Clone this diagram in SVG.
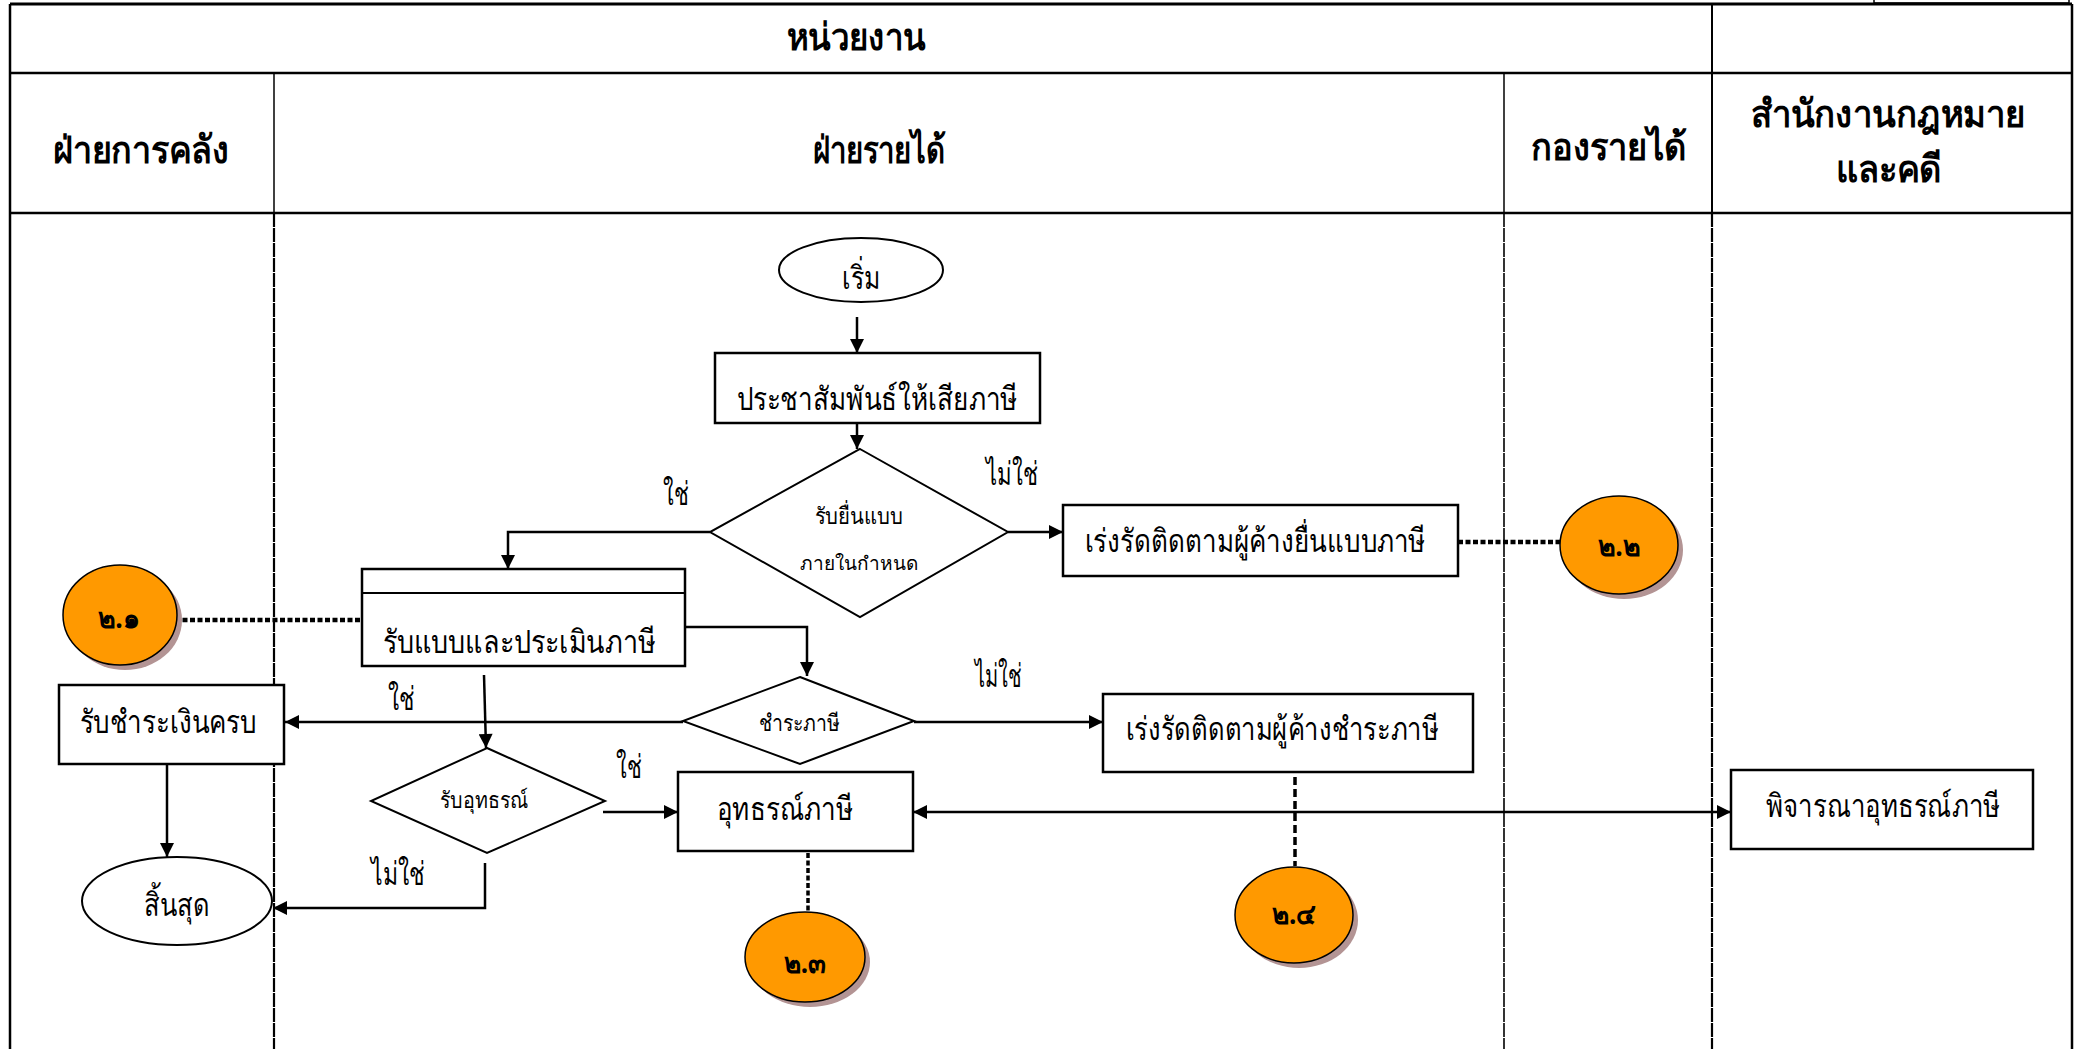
<svg xmlns="http://www.w3.org/2000/svg" width="2078" height="1049" viewBox="0 0 2078 1049">
<defs>
<marker id="arr" viewBox="0 0 10 10" refX="10" refY="5" markerUnits="userSpaceOnUse" markerWidth="16" markerHeight="14" orient="auto-start-reverse"><path d="M0,0 L10,5 L0,10 z" fill="#000"/></marker>
<style>
text{font-family:"Noto Sans",sans-serif;fill:#000}
.hd{font-size:38px;font-weight:bold;text-anchor:middle}
.bx{font-size:32px;text-anchor:middle}
.sm{font-size:23px;text-anchor:middle}
.lb{font-size:32px;text-anchor:middle}
.cn{font-size:28px;font-weight:bold;text-anchor:middle}
.box{fill:#fff;stroke:#000;stroke-width:2.5}
.circ{fill:#FF9900;stroke:#000;stroke-width:1.5}
.shad{fill:#b39494}
.ln{fill:none;stroke:#000;stroke-width:2.5}
.arw{fill:none;stroke:#000;stroke-width:2.5;marker-end:url(#arr)}
.dot{fill:none;stroke:#000;stroke-width:4.5;stroke-dasharray:5 2.5}
.lane{fill:none;stroke:#000;stroke-width:2.2;stroke-dasharray:14 1}
</style>
</defs>
<g id="frame">
<rect x="1874" y="-6" width="195" height="9" fill="#fff" stroke="#000" stroke-width="1.5"/>
<line x1="10" y1="4" x2="2072" y2="4" stroke="#000" stroke-width="3"/>
<line x1="10" y1="73" x2="2072" y2="73" stroke="#000" stroke-width="2.5"/>
<line x1="10" y1="213" x2="2072" y2="213" stroke="#000" stroke-width="2.5"/>
<line x1="10" y1="4" x2="10" y2="1049" stroke="#000" stroke-width="2.5"/>
<line x1="2072" y1="4" x2="2072" y2="1049" stroke="#000" stroke-width="2.5"/>
<line x1="274" y1="73" x2="274" y2="213" stroke="#000" stroke-width="1.5"/>
<line x1="1504" y1="73" x2="1504" y2="213" stroke="#000" stroke-width="1.5"/>
<line x1="1712" y1="4" x2="1712" y2="213" stroke="#000" stroke-width="2"/>
<line class="lane" x1="274" y1="213" x2="274" y2="1049"/>
<line class="lane" x1="1504" y1="213" x2="1504" y2="1049" style="stroke-width:1.6"/>
<line class="lane" x1="1712" y1="213" x2="1712" y2="1049"/>
<text class="hd" x="856" y="50" textLength="139" lengthAdjust="spacingAndGlyphs">หน่วยงาน</text>
<text class="hd" x="141" y="163" textLength="176" lengthAdjust="spacingAndGlyphs">ฝ่ายการคลัง</text>
<text class="hd" x="879" y="163" textLength="133" lengthAdjust="spacingAndGlyphs">ฝ่ายรายได้</text>
<text class="hd" x="1609" y="160" textLength="156" lengthAdjust="spacingAndGlyphs">กองรายได้</text>
<text class="hd" x="1888" y="127" textLength="275" lengthAdjust="spacingAndGlyphs">สำนักงานกฎหมาย</text>
<text class="hd" x="1889" y="182" textLength="106" lengthAdjust="spacingAndGlyphs">และคดี</text>
</g>
<g id="connectors">
<line class="arw" x1="857" y1="317" x2="857" y2="353"/>
<line class="arw" x1="857" y1="423" x2="857" y2="449"/>
<polyline class="arw" points="710,532 508,532 508,569"/>
<line class="arw" x1="1008" y1="532" x2="1063" y2="532"/>
<line class="dot" x1="1458" y1="542" x2="1560" y2="542"/>
<line class="dot" x1="175" y1="620" x2="362" y2="620"/>
<polyline class="arw" points="685,627 807,627 807,676"/>
<line class="arw" x1="683" y1="722" x2="285" y2="722"/>
<line class="arw" x1="914" y1="722" x2="1103" y2="722"/>
<line class="arw" x1="484" y1="675" x2="486" y2="748"/>
<line class="arw" x1="167" y1="764" x2="167" y2="857"/>
<line class="arw" x1="603" y1="812" x2="678" y2="812"/>
<polyline class="arw" points="485,863 485,908 273,908"/>
<line class="arw" x1="913" y1="812" x2="1731" y2="812" style="marker-start:url(#arr)"/>
<line class="dot" x1="808" y1="853" x2="808" y2="911" style="stroke-width:3.5"/>
<line class="dot" x1="1295" y1="777" x2="1295" y2="866" style="stroke-width:3.5;stroke-dasharray:8 4"/>
<text class="lb" x="676" y="505" textLength="26" lengthAdjust="spacingAndGlyphs">ใช่</text>
<text class="lb" x="1012" y="485" textLength="52" lengthAdjust="spacingAndGlyphs">ไม่ใช่</text>
<text class="lb" x="401" y="710" textLength="27" lengthAdjust="spacingAndGlyphs">ใช่</text>
<text class="lb" x="998" y="687" textLength="47" lengthAdjust="spacingAndGlyphs">ไม่ใช่</text>
<text class="lb" x="629" y="778" textLength="26" lengthAdjust="spacingAndGlyphs">ใช่</text>
<text class="lb" x="398" y="885" textLength="54" lengthAdjust="spacingAndGlyphs">ไม่ใช่</text>
</g>
<g id="start">
<ellipse cx="861" cy="270" rx="82" ry="32" fill="#fff" stroke="#000" stroke-width="2"/>
<text class="bx" x="861" y="289" textLength="38" lengthAdjust="spacingAndGlyphs">เริ่ม</text>
</g>
<g id="publicize">
<rect class="box" x="715" y="353" width="325" height="70"/>
<text class="bx" x="877" y="410" textLength="281" lengthAdjust="spacingAndGlyphs">ประชาสัมพันธ์ให้เสียภาษี</text>
</g>
<g id="decision-file">
<polygon points="860,449 1008,532 860,617 710,532" fill="#fff" stroke="#000" stroke-width="2"/>
<text class="sm" x="859" y="524" textLength="89" lengthAdjust="spacingAndGlyphs">รับยื่นแบบ</text>
<text class="sm" x="859" y="570" style="font-size:19px" textLength="118" lengthAdjust="spacingAndGlyphs">ภายในกำหนด</text>
</g>
<g id="follow-file">
<rect class="box" x="1063" y="505" width="395" height="71"/>
<text class="bx" x="1255" y="552" textLength="341" lengthAdjust="spacingAndGlyphs">เร่งรัดติดตามผู้ค้างยื่นแบบภาษี</text>
</g>
<g id="c22">
<ellipse class="shad" cx="1624" cy="550" rx="59" ry="49"/>
<ellipse class="circ" cx="1619" cy="545" rx="59" ry="49"/>
<text class="cn" x="1619" y="556" textLength="42" lengthAdjust="spacingAndGlyphs">๒.๒</text>
</g>
<g id="assess">
<rect class="box" x="362" y="569" width="323" height="97"/>
<line x1="362" y1="593" x2="685" y2="593" stroke="#000" stroke-width="2"/>
<text class="bx" x="519" y="653" textLength="273" lengthAdjust="spacingAndGlyphs">รับแบบและประเมินภาษี</text>
</g>
<g id="c21">
<ellipse class="shad" cx="125" cy="620" rx="57" ry="50"/>
<ellipse class="circ" cx="120" cy="615" rx="57" ry="50"/>
<text class="cn" x="119" y="628" textLength="42" lengthAdjust="spacingAndGlyphs">๒.๑</text>
</g>
<g id="decision-pay">
<polygon points="800,677 914,721 800,764 683,721" fill="#fff" stroke="#000" stroke-width="2"/>
<text class="sm" x="799" y="731" textLength="81" lengthAdjust="spacingAndGlyphs">ชำระภาษี</text>
</g>
<g id="follow-pay">
<rect class="box" x="1103" y="694" width="370" height="78"/>
<text class="bx" x="1282" y="740" textLength="313" lengthAdjust="spacingAndGlyphs">เร่งรัดติดตามผู้ค้างชำระภาษี</text>
</g>
<g id="paid">
<rect class="box" x="59" y="685" width="225" height="79"/>
<text class="bx" x="168" y="733" textLength="177" lengthAdjust="spacingAndGlyphs">รับชำระเงินครบ</text>
</g>
<g id="decision-appeal">
<polygon points="487,748 605,801 487,853 371,801" fill="#fff" stroke="#000" stroke-width="2"/>
<text class="sm" x="484" y="808" textLength="88" lengthAdjust="spacingAndGlyphs">รับอุทธรณ์</text>
</g>
<g id="appeal">
<rect class="box" x="678" y="772" width="235" height="79"/>
<text class="bx" x="785" y="820" textLength="136" lengthAdjust="spacingAndGlyphs">อุทธรณ์ภาษี</text>
</g>
<g id="consider">
<rect class="box" x="1731" y="770" width="302" height="79"/>
<text class="bx" x="1883" y="817" textLength="234" lengthAdjust="spacingAndGlyphs">พิจารณาอุทธรณ์ภาษี</text>
</g>
<g id="end">
<ellipse cx="177" cy="901" rx="95" ry="44" fill="#fff" stroke="#000" stroke-width="2"/>
<text class="bx" x="177" y="916" textLength="66" lengthAdjust="spacingAndGlyphs">สิ้นสุด</text>
</g>
<g id="c23">
<ellipse class="shad" cx="810" cy="962" rx="60" ry="45"/>
<ellipse class="circ" cx="805" cy="957" rx="60" ry="45"/>
<text class="cn" x="805" y="973" textLength="42" lengthAdjust="spacingAndGlyphs">๒.๓</text>
</g>
<g id="c24">
<ellipse class="shad" cx="1299" cy="920" rx="59" ry="48"/>
<ellipse class="circ" cx="1294" cy="915" rx="59" ry="48"/>
<text class="cn" x="1294" y="924" textLength="44" lengthAdjust="spacingAndGlyphs">๒.๔</text>
</g>
</svg>
